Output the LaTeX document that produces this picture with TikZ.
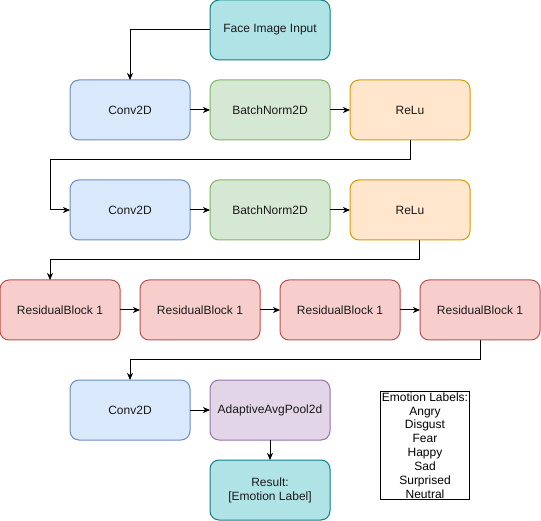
\documentclass[tikz,border=0pt]{standalone}
\usepackage{fontspec}
\setmainfont{Liberation Sans}
\usetikzlibrary{arrows.meta,positioning}
\definecolor{bluef}{HTML}{DAE8FC}\definecolor{blued}{HTML}{6C8EBF}
\definecolor{greenf}{HTML}{D5E8D4}\definecolor{greend}{HTML}{82B366}
\definecolor{orangef}{HTML}{FFE6CC}\definecolor{oranged}{HTML}{D79B00}
\definecolor{redf}{HTML}{F8CECC}\definecolor{redd}{HTML}{B85450}
\definecolor{purplef}{HTML}{E1D5E7}\definecolor{purpled}{HTML}{9673A6}
\definecolor{tealf}{HTML}{B0E3E6}\definecolor{teald}{HTML}{0E8088}
\definecolor{txt}{HTML}{1A1A1A}
\tikzset{
  box/.style={rectangle, rounded corners=9pt, minimum width=120pt, minimum height=60pt, line width=1pt, inner sep=0pt, outer sep=0pt, font=\fontsize{12}{14}\selectfont, text=txt, align=center},
  bluebox/.style={box, fill=bluef, draw=blued},
  greenbox/.style={box, fill=greenf, draw=greend},
  orangebox/.style={box, fill=orangef, draw=oranged},
  redbox/.style={box, fill=redf, draw=redd},
  purplebox/.style={box, fill=purplef, draw=purpled},
  tealbox/.style={box, fill=tealf, draw=teald},
  conn/.style={line width=1pt, -{Stealth[length=7pt,width=6pt,inset=2pt]}},
}
\begin{document}
\begin{tikzpicture}[x=1pt,y=-1pt]
\useasboundingbox (0,0) rectangle (541,521);
\node[tealbox] (face) at (270,30) {Face Image Input};
\node[bluebox] (conv1) at (130,110) {Conv2D};
\node[greenbox] (bn1) at (270,110) {BatchNorm2D};
\node[orangebox] (relu1) at (410,110) {ReLu};
\node[bluebox] (conv2) at (130,210) {Conv2D};
\node[greenbox] (bn2) at (270,210) {BatchNorm2D};
\node[orangebox] (relu2) at (410,210) {ReLu};
\node[redbox] (r1) at (60,310) {ResidualBlock 1};
\node[redbox] (r2) at (200,310) {ResidualBlock 1};
\node[redbox] (r3) at (340,310) {ResidualBlock 1};
\node[redbox] (r4) at (480,310) {ResidualBlock 1};
\node[bluebox] (conv3) at (130,410) {Conv2D};
\node[purplebox] (pool) at (270,410) {AdaptiveAvgPool2d};
\node[tealbox] (res) at (270,490) {Result:\\{[}Emotion Label{]}};
\node[draw, line width=1pt, inner xsep=1pt, inner ysep=1pt, align=center, font=\fontsize{12}{13.9}\selectfont, text=black] (labels) at (425,445.5) {Emotion Labels:\\Angry\\Disgust\\Fear\\Happy\\Sad\\Surprised\\Neutral};

\draw[conn] (face.west) -| (conv1.north);
\draw[conn] (conv1) -- (bn1);
\draw[conn] (bn1) -- (relu1);
\draw[conn] (relu1.south) -- ++(0,20) -| ([xshift=-20pt]conv2.west) -- (conv2.west);
\draw[conn] (conv2) -- (bn2);
\draw[conn] (bn2) -- (relu2);
\draw[conn] ([xshift=9pt]relu2.south) -- ++(0,20) -| ([xshift=-10pt]r1.north);
\draw[conn] (r1) -- (r2);
\draw[conn] (r2) -- (r3);
\draw[conn] (r3) -- (r4);
\draw[conn] (r4.south) -- ++(0,20) -| (conv3.north);
\draw[conn] (conv3) -- (pool);
\draw[conn] (pool) -- (res);
\end{tikzpicture}
\end{document}
